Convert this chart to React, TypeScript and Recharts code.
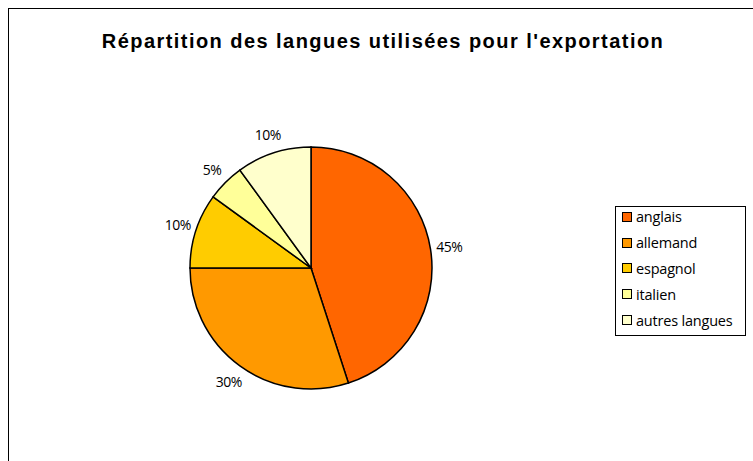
import React from "react";
import { PieChart, Pie, Cell, Legend } from "recharts";

const languages = ["anglais", "allemand", "espagnol", "italien", "autres langues"];
const shares = [45, 30, 10, 5, 10];
const colors = ["#FF6600", "#FF9900", "#FFCC00", "#FFFF99", "#FFFFCC"];
const title = "Répartition des langues utilisées pour l'exportation";

const data = languages.map((name, i) => ({ name, value: shares[i] }));
const RAD = Math.PI / 180;

const renderLabel = (props: any) => {
  const { cx, cy, midAngle, outerRadius, value } = props;
  const r = outerRadius + 19;
  const x = cx + r * Math.cos(-midAngle * RAD);
  const y = cy + r * Math.sin(-midAngle * RAD);
  return (
    <text
      x={x}
      y={y}
      textAnchor="middle"
      dominantBaseline="central"
      fontFamily="'Open Sans', sans-serif"
      fontSize={14}
      letterSpacing={-0.5}
      fill="#000"
    >
      {`${value}%`}
    </text>
  );
};

const LegendContent = () => (
  <div
    style={{
      border: "1px solid #000",
      background: "#fff",
      width: 131,
      height: 130,
      boxSizing: "border-box",
      padding: "0 0 0 6px",
      fontFamily: "'Open Sans', sans-serif",
      fontSize: 14.5,
      letterSpacing: -0.2,
    }}
  >
    <div style={{ marginTop: -3 }}>
      {languages.map((name, i) => (
        <div key={name} style={{ display: "flex", alignItems: "center", height: 25.8 }}>
          <span
            style={{
              display: "inline-block",
              width: 8,
              height: 8,
              border: "1.5px solid #000",
              background: colors[i],
              marginRight: 4,
            }}
          />
          <span>{name}</span>
        </div>
      ))}
    </div>
  </div>
);

export default function App() {
  return (
    <div style={{ position: "absolute", left: 0, top: 0, width: 753, height: 461, background: "#fff", overflow: "hidden" }}>
      <div
        style={{
          position: "absolute",
          left: 8,
          top: 8,
          width: 800,
          height: 500,
          border: "1px solid #000",
          boxSizing: "border-box",
        }}
      />
      <div
        style={{
          position: "absolute",
          left: 0,
          width: 766,
          top: 29,
          textAlign: "center",
          fontFamily: "'Liberation Sans', Arial, sans-serif",
          fontWeight: "bold",
          fontSize: 20,
          letterSpacing: 1.45,
          lineHeight: "24px",
        }}
      >
        {title}
      </div>
      <div style={{ position: "absolute", left: 0, top: 0 }}>
        <PieChart width={753} height={461} margin={{ top: 0, right: 0, bottom: 0, left: 0 }}>
          <Pie
            data={data}
            dataKey="value"
            nameKey="name"
            cx={311}
            cy={268}
            outerRadius={121}
            startAngle={90}
            endAngle={-270}
            stroke="#000"
            strokeWidth={1.5}
            label={renderLabel}
            labelLine={false}
            isAnimationActive={false}
          >
            {data.map((d, i) => (
              <Cell key={d.name} fill={colors[i]} />
            ))}
          </Pie>
          <Legend
            content={<LegendContent />}
            layout="vertical"
            wrapperStyle={{ position: "absolute", left: 615, top: 206, width: 131, height: 130 }}
          />
        </PieChart>
      </div>
    </div>
  );
}
